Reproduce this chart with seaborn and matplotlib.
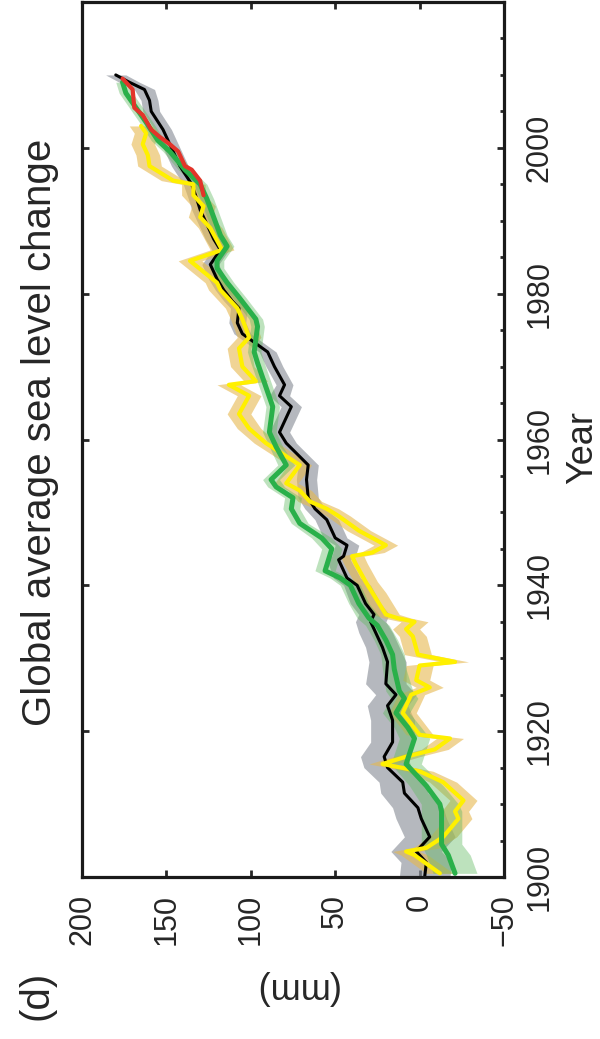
import numpy as np
import matplotlib
matplotlib.use("Agg")
import matplotlib.pyplot as plt
from matplotlib.ticker import MultipleLocator
import seaborn as sns

black_year = [1900, 1902, 1903.5, 1905.5, 1908, 1909.5, 1911.5, 1913, 1915, 1916.5,
              1918.5, 1921.5, 1923.5, 1925, 1926.5, 1929.5, 1931.5, 1933.5, 1935, 1936,
              1937.5, 1940, 1941, 1943.5, 1944, 1945.5, 1946.5, 1949, 1950.5, 1952,
              1954.5, 1956.5, 1959.5, 1961, 1964.5, 1966, 1967.5, 1970, 1972, 1974.5,
              1976, 1978, 1979, 1980.5, 1982, 1984, 1986, 1987.5, 1990, 1991.5,
              1993, 1995, 1997.5, 1999, 2002.5, 2005, 2006.5, 2008, 2009, 2010]
black_mm = [-3, -4, 2, -6, -1, 1, 9, 10, 19, 21,
            16, 16, 19, 14, 20, 19, 22, 26, 29, 27,
            32, 37, 43, 48, 45, 43, 50, 55, 62, 66,
            67, 66, 79, 83, 76, 83, 80, 86, 90, 105,
            108, 107, 111, 116, 120, 124, 118, 122, 127, 130,
            132, 135, 142, 145, 152, 159, 160, 163, 172, 180]
black_err = [15, 15, 15, 15, 15, 15, 14, 14, 14, 14,
             13, 13, 12, 12, 12, 11, 10, 10, 9, 9,
             9, 8, 8, 7, 7, 7, 7, 7, 6, 6,
             6, 6, 6, 6, 6, 6, 5, 5, 5, 5,
             5, 5, 5, 5, 5, 5, 5, 5, 5, 5,
             5, 5, 5, 5, 5, 5, 5, 6, 6, 6]

yellow_year = [1900.5, 1903, 1903.5, 1904, 1905.5, 1908, 1909, 1910.5, 1913, 1914.5,
               1915.5, 1916.5, 1917.5, 1919, 1919.5, 1922.5, 1925, 1926, 1927, 1929,
               1929.5, 1930.5, 1933, 1934, 1935, 1935.5, 1936, 1939, 1940.5, 1943,
               1944, 1944.5, 1945.5, 1947.5, 1949.5, 1950.5, 1951.5, 1953, 1954, 1956.5,
               1959.5, 1961.5, 1963.5, 1966, 1967.5, 1968, 1970, 1972.5, 1974, 1976.5,
               1978, 1980.5, 1981.5, 1984.5, 1986, 1989, 1990.5, 1992, 1993.5, 1995,
               1995.5, 1997.5, 1999, 2000.5, 2002, 2003]
yellow_mm = [-12, 3, 8, -4, -14, -23, -21, -26, -14, 0,
             22, 8, -9, -18, 0, 10, 5, -6, 2, 0,
             -21, 1, 4, 8, 3, 13, 20, 28, 32, 38,
             40, 28, 20, 36, 48, 55, 65, 71, 79, 71,
             91, 101, 107, 101, 113, 97, 105, 107, 101, 105,
             108, 118, 120, 136, 117, 124, 130, 128, 134, 134,
             146, 160, 161, 164, 162, 165]
yellow_err = [8, 8, 8, 8, 8, 8, 8, 8, 8, 8,
              8, 8, 8, 8, 8, 8, 8, 8, 8, 8,
              8, 8, 8, 8, 8, 8, 8, 8, 7, 7,
              7, 7, 7, 7, 7, 7, 7, 7, 7, 7,
              7, 7, 7, 7, 7, 7, 7, 7, 7, 7,
              7, 7, 7, 7, 7, 7, 7, 7, 7, 7,
              7, 7, 7, 7, 7, 7]

green_year = [1900.5, 1903, 1904.5, 1909, 1910, 1912.5, 1915.5, 1919, 1920.5, 1922.5,
              1924.5, 1925.5, 1928.5, 1930.5, 1932.5, 1934.5, 1935.5, 1937.5, 1940, 1941,
              1942, 1945, 1946.5, 1948.5, 1950.5, 1952, 1953.5, 1954.5, 1956.5, 1959,
              1961, 1964.5, 1966.5, 1970.5, 1972, 1975.5, 1976.5, 1979.5, 1981.5, 1983.5,
              1984.5, 1986.5, 1988, 1990.5, 1993, 1995, 1997, 1999.5, 2001, 2003.5,
              2005.5, 2007.5, 2009]
green_mm = [-21, -17, -13, -13, -12, -4, 8, 3, 7, 14,
            9, 12, 15, 16, 20, 25, 30, 36, 41, 47,
            56, 52, 58, 71, 76, 75, 85, 88, 79, 85,
            89, 87, 90, 96, 98, 96, 97, 107, 114, 120,
            120, 114, 118, 122, 126, 130, 139, 148, 155, 162,
            168, 174, 176]
green_err = [13, 13, 12, 12, 11, 10, 9, 9, 8, 8,
             8, 8, 7, 7, 7, 7, 7, 6, 6, 6,
             6, 6, 6, 5, 5, 5, 5, 5, 5, 4,
             4, 4, 4, 4, 4, 4, 4, 4, 4, 4,
             4, 4, 4, 4, 4, 4, 4, 4, 4, 4,
             4, 4, 4]

red_year = [1993.5, 1995.5, 1997, 1997.5, 1999.5, 2000.5, 2001.5, 2002.5, 2004.5, 2005.5, 2008, 2009.5]
red_mm = [128, 130, 135, 139, 143, 148, 154, 159, 164, 169, 170, 176]

mm_ticks = [-50, 0, 50, 100, 150, 200]
year_ticks = [1900, 1920, 1940, 1960, 1980, 2000]

sns.set_style("white")
plt.rcParams["font.family"] = ["Liberation Sans", "DejaVu Sans"]

fig = plt.figure(figsize=(6, 10.39), dpi=100)
ax = fig.add_axes([82 / 600, 1 - 877 / 1039, 422 / 600, 875 / 1039])

# the whole panel is turned a quarter turn: mm runs right-to-left, years upward
series = [
    (black_year, black_mm, black_err, "#000000", 2.2, "#8e939b", 0.65),
    (yellow_year, yellow_mm, yellow_err, "#fff000", 3.0, "#e6b84f", 0.6),
    (green_year, green_mm, green_err, "#2ab04a", 3.6, "#5cb85c", 0.4),
]
for yr, mm, err, col, lw, shade, alpha in series:
    yr = np.array(yr)
    mm = np.array(mm, dtype=float)
    err = np.array(err, dtype=float)
    ax.fill_betweenx(yr, mm - err, mm + err, color=shade, alpha=alpha, lw=0)
    sns.lineplot(x=mm, y=yr, orient="y", sort=True, estimator=None,
                 color=col, lw=lw, ax=ax)
sns.lineplot(x=red_mm, y=red_year, orient="y", sort=True, estimator=None,
             color="#e3342a", lw=3.0, ax=ax)

ax.set_xlim(200, -50)
ax.set_ylim(1900, 2020)
ax.set_xlabel("")
ax.set_ylabel("")
ax.set_xticks(mm_ticks)
ax.set_xticklabels([f"{v:d}".replace("-", "\u2212") for v in mm_ticks])
ax.set_yticks(year_ticks)
ax.set_yticklabels([str(v) for v in year_ticks])
ax.yaxis.set_minor_locator(MultipleLocator(5))

ax.tick_params(axis="x", which="major", direction="in", bottom=True, top=True,
               labelbottom=True, labeltop=False, length=5, width=2,
               labelrotation=90, pad=12, labelsize=22)
ax.tick_params(axis="y", which="major", direction="in", left=True, right=True,
               labelleft=False, labelright=True, length=5, width=2,
               labelrotation=90, pad=15, labelsize=22)
ax.tick_params(axis="y", which="minor", direction="in", left=False, right=True,
               length=3, width=2)
for lab in ax.get_yticklabels():
    lab.set_va("center")

for sp in ax.spines.values():
    sp.set_linewidth(2.3)
    sp.set_color("#1a1a1a")

fig.text(40 / 600, 1 - 432 / 1039, "Global average sea level change", rotation=90,
         ha="center", va="center", fontsize=29)
fig.text(37 / 600, 1 - 995 / 1039, "(d)", rotation=90, ha="center", va="center", fontsize=29)
fig.text(295 / 600, 1 - 988 / 1039, "(mm)", rotation=180, ha="center", va="center", fontsize=26)
fig.text(583 / 600, 1 - 448 / 1039, "Year", rotation=90, ha="center", va="center", fontsize=26)

fig.savefig("out.png", dpi=100, facecolor="white")
